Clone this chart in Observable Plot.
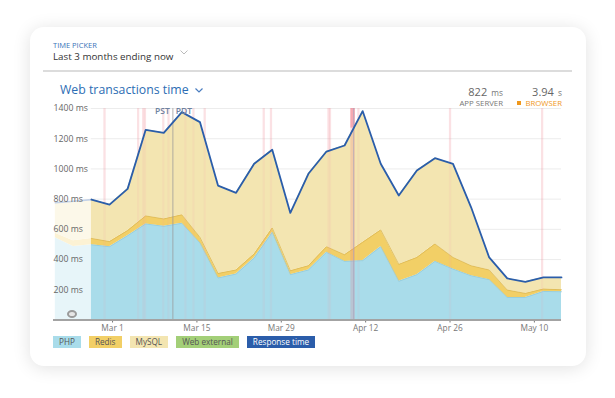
<!DOCTYPE html>
<html><head><meta charset="utf-8">
<script src="https://cdn.jsdelivr.net/npm/d3@7"></script>
<script src="https://cdn.jsdelivr.net/npm/@observablehq/plot@0.6"></script>
<style>
body{margin:0;background:#fff;font-family:"Open Sans",sans-serif;}
#wrap{position:relative;width:615px;height:398px;overflow:hidden;background:#fff;}
#card{position:absolute;left:30px;top:27px;width:556px;height:339px;background:#fff;border-radius:14px;box-shadow:0 2px 18px rgba(0,0,0,0.12);}
.abs{position:absolute;white-space:nowrap;}
#tpl{left:53px;top:40px;font-size:7.5px;line-height:10px;color:#3b73b9;}
#tpv{left:53px;top:50px;font-size:9.8px;line-height:13px;color:#333;}
#sep{left:43px;top:70px;width:529px;height:2px;background:#dcdcdc;}
#title{left:60px;top:82px;font-size:12.3px;line-height:16px;color:#2c6db4;}
.big{font-size:11px;color:#666;}
.unit{font-size:8.3px;color:#777;}
.stat{line-height:12px;}
.lab{font-size:7.8px;color:#777;line-height:8px;}
#chart{position:absolute;left:40px;top:98px;}
#legend{left:53px;top:336px;font-size:8.2px;}
#legend span{display:inline-block;height:12px;line-height:12px;padding:0 6px;margin-right:8px;color:#555;}
#ring{left:66.5px;top:309.5px;width:6px;height:4px;border:2px solid #9a9a9a;border-radius:50%;background:#e6e6e6;}
</style></head>
<body><div id="wrap">
<div id="card"></div>
<div class="abs" id="tpl">TIME PICKER</div>
<div class="abs" id="tpv">Last 3 months ending now</div>
<svg class="abs" style="left:180px;top:50px" width="8" height="5"><polyline points="0.5,0.5 4,4 7.5,0.5" fill="none" stroke="#bbb" stroke-width="1"/></svg>
<div class="abs" id="sep"></div>
<div class="abs" id="title">Web transactions time</div>
<svg class="abs" style="left:195px;top:88px" width="8" height="5"><polyline points="0.5,0.5 4,4 7.5,0.5" fill="none" stroke="#4a7dc0" stroke-width="1.2"/></svg>
<div class="abs stat" style="right:112px;top:83.5px"><span class="big">822</span> <span class="unit">ms</span></div>
<div class="abs lab" style="right:112px;top:99.3px">APP SERVER</div>
<div class="abs stat" style="right:53px;top:83.5px"><span class="big">3.94</span> <span class="unit">s</span></div>
<div class="abs lab" style="right:53px;top:99.3px;color:#f0981c"><span style="display:inline-block;width:4px;height:4px;background:#f0981c;margin-right:4px;vertical-align:1px"></span>BROWSER</div>
<div id="chart"></div>
<div class="abs" id="ring"></div>
<div class="abs" id="legend"></div>
</div>
<script>
// ---- data ----
const dates = ["2017-02-25T12:00Z","2017-02-28T12:00Z","2017-03-03T12:00Z","2017-03-06T12:00Z","2017-03-09T12:00Z","2017-03-12T12:00Z","2017-03-15T12:00Z","2017-03-18T12:00Z","2017-03-21T12:00Z","2017-03-24T12:00Z","2017-03-27T12:00Z","2017-03-30T12:00Z","2017-04-02T12:00Z","2017-04-05T12:00Z","2017-04-08T12:00Z","2017-04-11T12:00Z","2017-04-14T12:00Z","2017-04-17T12:00Z","2017-04-20T12:00Z","2017-04-23T12:00Z","2017-04-26T12:00Z","2017-04-29T12:00Z","2017-05-02T12:00Z","2017-05-05T12:00Z","2017-05-08T12:00Z","2017-05-11T12:00Z","2017-05-14T12:00Z"];
const php   = [498,485,558,636,620,640,510,278,304,410,580,300,331,448,388,393,485,256,300,388,337,293,267,149,149,189,187];
const redis = [42,34,34,53,49,56,37,30,27,27,29,26,28,37,44,121,111,112,114,115,77,66,64,49,27,16,13];
const mysql = [254,242,273,567,567,677,760,579,508,591,508,380,606,627,720,866,435,453,572,565,617,384,80,74,74,74,79];
const webExternal = [3,3,3,3,3,3,3,3,3,6,10,3,3,3,3,3,3,3,3,3,3,3,3,3,3,3,3];
const responseTime = [797,764,868,1259,1239,1376,1310,890,842,1034,1127,709,968,1115,1155,1383,1034,824,989,1071,1034,746,414,275,253,282,282];

// previous period (faded)
const prevDates = ["2017-02-19T12:00Z","2017-02-22T12:00Z","2017-02-25T12:00Z"];
const prevPhp = [545,487,498];
const prevRedis = [30,38,42];
const prevMysql = [201,261,257];
const prevWebExternal = [0,0,0];
const prevResponseTime = [776,786,797];

const seriesNames = ["PHP","Redis","MySQL","Web external"];
const seriesColors = ["#a9dcea","#f2cf66","#f3e5b1","#a3cf78"];
const responseName = "Response time";
const responseColor = "#2b5daa";

const xTicks = ["2017-03-01","2017-03-15","2017-03-29","2017-04-12","2017-04-26","2017-05-10"];
const yTicks = [200,400,600,800,1000,1200,1400];
const xDomain = ["2017-02-19T04:48Z","2017-05-14T12:00Z"];

const deployMarkers = ["2017-02-27T16:00Z","2017-03-05T06:00Z","2017-03-06T02:00Z","2017-03-06T09:00Z","2017-03-09T10:00Z","2017-03-10T07:00Z","2017-03-13T02:00Z","2017-03-14T10:00Z","2017-03-16T07:00Z","2017-03-26T02:00Z","2017-03-27T07:00Z","2017-04-05T20:00Z","2017-04-06T02:00Z","2017-04-10T19:00Z","2017-04-26T00:00Z","2017-05-11T07:00Z"];
const alertMarkers = ["2017-04-09T20:00Z"];
const greyMarkers = ["2017-04-10T00:00Z"];
const tzChange = "2017-03-11T00:00Z";
const tzLabels = ["PST","PDT"];

// ---- build ----
const D = s => new Date(s);
const cols = [php, redis, mysql, webExternal];
const prevCols = [prevPhp, prevRedis, prevMysql, prevWebExternal];
const rows = dates.flatMap((d,i)=>seriesNames.map((s,j)=>({date:D(d), series:s, value:cols[j][i]})));
const prevRows = prevDates.flatMap((d,i)=>seriesNames.map((s,j)=>({date:D(d), series:s, value:prevCols[j][i]})));
const resp = dates.map((d,i)=>({date:D(d), value:responseTime[i]}));
const prevResp = prevDates.map((d,i)=>({date:D(d), value:prevResponseTime[i]}));
const tops = dates.map((d,i)=>({date:D(d), php:php[i], redisTop:php[i]+redis[i]}));

const chart = Plot.plot({
  width:535, height:240,
  marginLeft:13, marginRight:14, marginTop:10, marginBottom:18.5,
  style:{fontFamily:"Open Sans", fontSize:"8.3px", color:"#777", background:"transparent", overflow:"visible"},
  x:{type:"utc", domain:xDomain.map(D), ticks:xTicks.map(D), tickFormat:"%b %-d", tickSize:3, tickPadding:2, label:null},
  y:{domain:[0,1400], axis:null},
  color:{domain:seriesNames, range:seriesColors},
  marks:[
    Plot.ruleY(yTicks,{stroke:"#ececec"}),
    Plot.ruleX(deployMarkers.map(D),{y1:0, y2:1400, stroke:"#f39aa6", strokeOpacity:0.22, strokeWidth:2.2}),
    Plot.areaY(prevRows,{x:"date", y:"value", z:"series", fill:"series", order:seriesNames, clip:true}),
    Plot.lineY(prevResp,{x:"date", y:"value", stroke:responseColor, strokeWidth:1.6, clip:true}),
    Plot.rect([{a:D(xDomain[0]), b:D(dates[0])}],{x1:"a", x2:"b", y1:0, y2:1400, fill:"white", fillOpacity:0.72}),
    Plot.areaY(rows,{x:"date", y:"value", z:"series", fill:"series", order:seriesNames}),
    Plot.lineY(tops,{x:"date", y:"php", stroke:"#93cadb", strokeWidth:0.8}),
    Plot.lineY(tops,{x:"date", y:"redisTop", stroke:"#dcb955", strokeWidth:0.8}),
    Plot.ruleX(deployMarkers.map(D),{y1:0, y2:1400, stroke:"#f39aa6", strokeOpacity:0.1, strokeWidth:2.2}),
    Plot.ruleX(alertMarkers.map(D),{y1:0, y2:1400, stroke:"#f0707f", strokeOpacity:0.22, strokeWidth:4.5}),
    Plot.ruleX(alertMarkers.map(D),{y1:1270, y2:1400, stroke:"#f0707f", strokeOpacity:0.5, strokeWidth:4.5}),
    Plot.ruleX(greyMarkers.map(D),{y1:0, y2:1400, stroke:"#a8a3bd", strokeOpacity:0.6, strokeWidth:1.2}),
    Plot.ruleX([D(tzChange)],{y1:0, y2:1400, stroke:"#9a9a9a", strokeOpacity:0.5, strokeWidth:1.5}),
    Plot.lineY(resp,{x:"date", y:"value", stroke:responseColor, strokeWidth:1.8, strokeLinejoin:"round"}),
    Plot.text([tzLabels[0]],{x:D(tzChange), y:1383, text:d=>d, textAnchor:"end", dx:-3, fill:"#6d82a0", fontSize:8.5, fontWeight:600}),
    Plot.text([tzLabels[1]],{x:D(tzChange), y:1383, text:d=>d, textAnchor:"start", dx:3, fill:"#6d82a0", fontSize:8.5, fontWeight:600}),
    Plot.text(yTicks,{y:d=>d, frameAnchor:"left", text:d=>`${d} ms`, textAnchor:"start", fill:"#666", fontSize:8.7}),
    Plot.ruleY([0],{stroke:"#a3a3a3", strokeWidth:2})
  ]
});
document.getElementById("chart").appendChild(chart);

const legend = document.getElementById("legend");
seriesNames.forEach((s,i)=>{
  const el = document.createElement("span");
  el.textContent = s; el.style.background = seriesColors[i];
  legend.appendChild(el);
});
const r = document.createElement("span");
r.textContent = responseName; r.style.background = responseColor; r.style.color = "#fff";
legend.appendChild(r);
</script>
</body></html>
